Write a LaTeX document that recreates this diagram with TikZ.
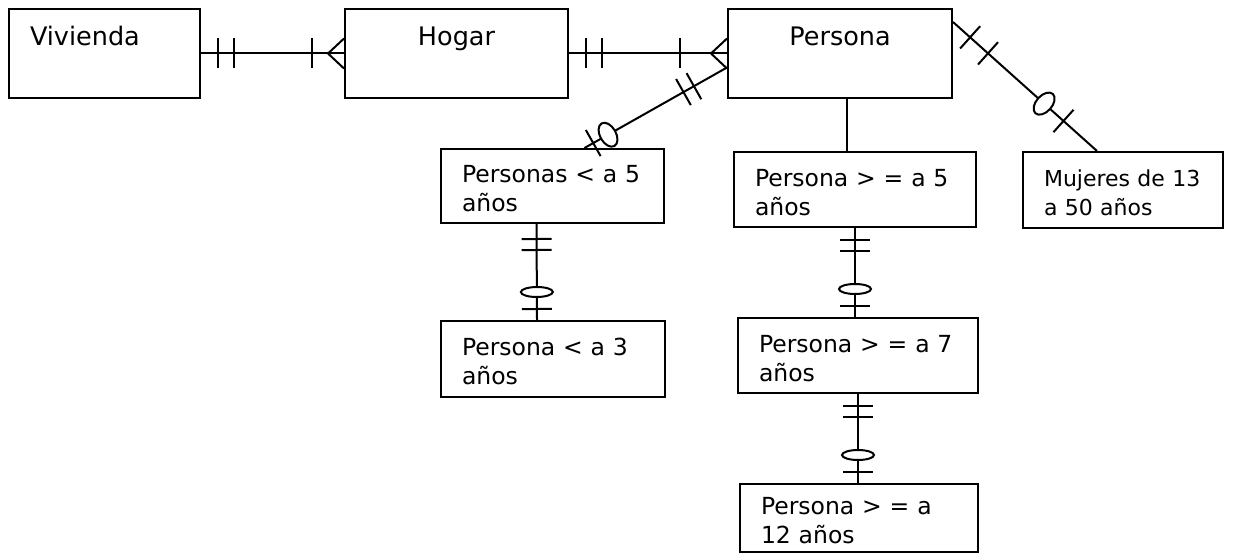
\documentclass[tikz,border=0pt]{standalone}
\usepackage{fontspec}
\setmainfont{DejaVu Sans}
\usetikzlibrary{decorations.markings}

\tikzset{
  entity/.style={draw, inner xsep=21pt, inner ysep=0pt},
  topbox/.style={entity, font=\fontsize{25.5}{30}\selectfont, text height=37pt, text depth=52pt},
  lowbox/.style={entity, font=\fontsize{23.5}{29}\selectfont, align=left, text height=23pt, text depth=30pt},
  onetick/.style={postaction={decorate, decoration={markings,
      mark=at position #1 with {\draw (0,-15pt) -- (0,15pt);}}}},
  ringmark/.style={postaction={decorate, decoration={markings,
      mark=at position #1 with {\draw[fill=white] (0,0) ellipse [x radius=5pt, y radius=16pt];}}}},
  ringround/.style={postaction={decorate, decoration={markings,
      mark=at position #1 with {\draw[fill=white] (0,0) ellipse [x radius=8pt, y radius=13pt];}}}},
  crowfoot/.style={postaction={decorate, decoration={markings,
      mark=at position 1 with {\draw (-16pt,0) -- (0,15pt) (-16pt,0) -- (0,-15pt);}}}}
}

\begin{document}
\begin{tikzpicture}[x=1pt, y=-1pt, line width=2pt]
  \useasboundingbox (0,0) rectangle (1249,556);

  % entidades de arriba
  \node[topbox, text width=149pt, align=left] at (104.5,53.5) (viv) {Vivienda};
  \node[topbox, minimum width=223pt] at (456.5,53.5) (hog) {Hogar};
  \node[topbox, minimum width=224pt] at (840,53.5) (per) {Persona};

  % entidades de abajo
  \node[lowbox, text width=181pt, minimum height=74pt] at (552.5,186) (lt5) {Personas < a 5\\años};
  \node[lowbox, text width=200pt, minimum height=75pt] at (855,189.5) (ge5) {Persona > = a 5\\años};
  \node[lowbox, text width=158pt, minimum height=76pt, font=\fontsize{22}{29}\selectfont] at (1123,190) (muj) {Mujeres de 13\\a 50 años};
  \node[lowbox, text width=182pt, minimum height=76pt] at (553,359) (lt3) {Persona < a 3\\años};
  \node[lowbox, text width=198pt, minimum height=75pt] at (858,355.5) (ge7) {Persona > = a 7\\años};
  \node[lowbox, text width=196pt, minimum height=68pt] at (859,518) (ge12) {Persona > = a\\12 años};

  % relaciones
  \draw[onetick=17pt, onetick=33pt, onetick=-32pt, crowfoot] (viv.east) -- (hog.west);
  \draw[onetick=17pt, onetick=33pt, onetick=-47pt, crowfoot] (hog.east) -- (per.west);
  \draw[onetick=38pt, onetick=50pt, ringround=-27pt, onetick=-10pt] ([yshift=-14pt]per.west) -- ([xshift=32pt]lt5.north);
  \draw ([xshift=7pt]per.south) -- ([xshift=7pt]per.south |- ge5.north);
  \draw[onetick=23pt, onetick=47pt, ringround=-71pt, onetick=-45pt] ([yshift=-14pt]per.north east) -- ([xshift=-26pt]muj.north);
  \draw[onetick=15pt, onetick=26pt, ringmark=-28pt, onetick=-11pt] ([xshift=-16pt]lt5.south) -- ([xshift=-16pt]lt3.north);
  \draw[onetick=12pt, onetick=23pt, ringmark=-28pt, onetick=-11pt] (ge5.south) -- (ge5.south |- ge7.north);
  \draw[onetick=12pt, onetick=23pt, ringmark=-28pt, onetick=-11pt] (ge7.south) -- (ge7.south |- ge12.north);
\end{tikzpicture}
\end{document}
